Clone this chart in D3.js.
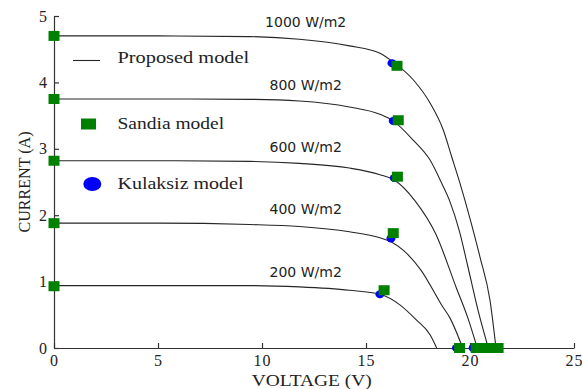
<!DOCTYPE html>
<html>
<head>
<meta charset="utf-8">
<script src="https://cdn.jsdelivr.net/npm/d3@7"></script>
<style>
  html, body { margin: 0; padding: 0; background: #fff; }
  svg { display: block; }
</style>
</head>
<body>
<svg id="chart" width="582" height="389"></svg>
<script>
// Irradiance levels, one I-V curve per level
const irradiance = [200, 400, 600, 800, 1000];
const curveLabels = ["200 W/m2", "400 W/m2", "600 W/m2", "800 W/m2", "1000 W/m2"];

// Proposed model I-V curves: [voltage (V), current (A)]
const proposed200 = [[0, 0.94], [5, 0.94], [9.4, 0.94], [11.8, 0.92], [14.2, 0.87], [15.67, 0.81], [16.63, 0.65], [17.43, 0.42], [18.08, 0.2], [18.4, 0]];
const proposed400 = [[0, 1.88], [5, 1.88], [9.4, 1.86], [11.8, 1.83], [14.2, 1.75], [15.67, 1.66], [16.2, 1.6], [16.8, 1.47], [17.65, 1.17], [18.65, 0.64], [19.04, 0.45], [19.65, 0]];
const proposed600 = [[0, 2.82], [5, 2.82], [9.4, 2.81], [11.8, 2.78], [14.2, 2.71], [15.67, 2.61], [16.36, 2.53], [17.35, 2.22], [18.35, 1.72], [19.35, 0.9], [19.9, 0.45], [20.35, 0]];
const proposed800 = [[0, 3.75], [5, 3.75], [9.4, 3.745], [11.8, 3.72], [14.2, 3.63], [15.67, 3.52], [16.3, 3.42], [17.27, 3.13], [18.08, 2.83], [18.64, 2.48], [19.04, 2.2], [19.5, 1.75], [19.88, 1.25], [20.4, 0.55], [20.88, 0]];
const proposed1000 = [[0, 4.70], [5, 4.70], [9.4, 4.69], [11.8, 4.65], [14.2, 4.55], [15.67, 4.44], [16.3, 4.31], [17.27, 4.04], [18.08, 3.69], [18.72, 3.28], [19.12, 2.88], [19.52, 2.48], [20.0, 1.95], [20.48, 1.37], [20.96, 0.72], [21.25, 0]];
const proposedCurves = [proposed200, proposed400, proposed600, proposed800, proposed1000];

// Sandia model key points (Isc, maximum power point, Voc) per irradiance
const sandiaIsc = [0.93, 1.88, 2.82, 3.75, 4.70];
const sandiaVmp = [15.87, 16.31, 16.51, 16.55, 16.49];
const sandiaImp = [0.87, 1.73, 2.58, 3.43, 4.25];
const sandiaVoc = [19.5, 20.3, 20.65, 21.0, 21.35];

// Kulaksiz model key points per irradiance
const kulaksizIsc = [0.93, 1.88, 2.82, 3.75, 4.70];
const kulaksizVmp = [15.67, 16.2, 16.36, 16.31, 16.25];
const kulaksizImp = [0.81, 1.65, 2.56, 3.42, 4.29];
const kulaksizVoc = [19.35, 20.15, 20.5, 20.9, 21.2];

// Axis ticks
const xTicks = [0, 5, 10, 15, 20, 25];
const yTicks = [0, 1, 2, 3, 4, 5];

const legendItems = ["Proposed model", "Sandia model", "Kulaksiz model"];

const svg = d3.select("#chart");
const x = d3.scaleLinear().domain([0, 25]).range([54, 574]);
const y = d3.scaleLinear().domain([0, 5]).range([348, 16]);

const serif = "'Liberation Serif', 'Times New Roman', serif";
const sans = "'DejaVu Sans', Verdana, sans-serif";
const axisColor = "#333";

// Axes with inward ticks
const xAxis = d3.axisBottom(x).tickValues(xTicks).tickFormat(d3.format("d"))
  .tickSizeInner(-5).tickSizeOuter(0).tickPadding(6.6);
const yAxis = d3.axisLeft(y).tickValues(yTicks).tickFormat(d3.format("d"))
  .tickSizeInner(-5).tickSizeOuter(0).tickPadding(7);

const gx = svg.append("g").attr("transform", `translate(0,${y(0)})`).call(xAxis);
const gy = svg.append("g").attr("transform", `translate(${x(0)},0)`).call(yAxis);
[gx, gy].forEach(g => {
  g.select(".domain").attr("stroke", axisColor).attr("stroke-width", 1.2);
  g.selectAll(".tick line").attr("stroke", axisColor).attr("stroke-width", 1.2);
  g.selectAll(".tick text").attr("fill", "#222").style("font-family", serif).style("font-size", "16px");
});
gx.selectAll(".tick text").style("letter-spacing", "1px");

// Axis titles
svg.append("text")
  .attr("x", 311.7).attr("y", 386)
  .attr("text-anchor", "middle")
  .attr("textLength", 120).attr("lengthAdjust", "spacingAndGlyphs")
  .style("font-family", serif).style("font-size", "16px").attr("fill", "#222")
  .text("VOLTAGE (V)");

svg.append("text")
  .attr("transform", `translate(30,${y(2.5)}) rotate(-90)`)
  .attr("text-anchor", "middle")
  .attr("textLength", 101).attr("lengthAdjust", "spacingAndGlyphs")
  .style("font-family", serif).style("font-size", "16px").attr("fill", "#222")
  .text("CURRENT (A)");

// Proposed model curves
const line = d3.line()
  .x(d => x(d[0]))
  .y(d => y(d[1]))
  .curve(d3.curveMonotoneX);

svg.append("g").selectAll("path")
  .data(proposedCurves)
  .join("path")
  .attr("d", line)
  .attr("fill", "none")
  .attr("stroke", "#262626")
  .attr("stroke-width", 1.1);

// Irradiance labels above each curve
svg.append("g").selectAll("text")
  .data(curveLabels)
  .join("text")
  .attr("x", x(12.1))
  .attr("y", (d, i) => y(sandiaIsc[i]) - 9)
  .attr("text-anchor", "middle")
  .style("font-family", sans).style("font-size", "14px").attr("fill", "#222")
  .text(d => d);

// Kulaksiz model points
const kulaksizPts = [];
irradiance.forEach((g, i) => {
  kulaksizPts.push([0, kulaksizIsc[i]], [kulaksizVmp[i], kulaksizImp[i]], [kulaksizVoc[i], 0]);
});
svg.append("g").selectAll("ellipse")
  .data(kulaksizPts)
  .join("ellipse")
  .attr("cx", d => x(d[0])).attr("cy", d => y(d[1]))
  .attr("rx", 4.5).attr("ry", 4)
  .attr("fill", "#0000ff");

// Sandia model points
const sandiaPts = [];
irradiance.forEach((g, i) => {
  sandiaPts.push([0, sandiaIsc[i]], [sandiaVmp[i], sandiaImp[i]], [sandiaVoc[i], 0]);
});
svg.append("g").selectAll("rect")
  .data(sandiaPts)
  .join("rect")
  .attr("x", d => x(d[0]) - 5.5).attr("y", d => y(d[1]) - 5)
  .attr("width", 11).attr("height", 10)
  .attr("fill", "#008000");

// Legend
const legend = svg.append("g");
legend.append("line")
  .attr("x1", 73).attr("x2", 100).attr("y1", 60.5).attr("y2", 60.5)
  .attr("stroke", "#262626").attr("stroke-width", 1.1);
legend.append("rect")
  .attr("x", 81).attr("y", 118.5).attr("width", 15).attr("height", 11)
  .attr("fill", "#008000");
legend.append("ellipse")
  .attr("cx", 92.3).attr("cy", 184).attr("rx", 9).attr("ry", 7)
  .attr("fill", "#0000ff");

const legendBaselines = [63.3, 129, 189];
const legendWidths = [131.7, 106.6, 126];
legend.selectAll("text.item")
  .data(legendItems)
  .join("text")
  .attr("class", "item")
  .attr("x", 117.5)
  .attr("y", (d, i) => legendBaselines[i])
  .attr("textLength", (d, i) => legendWidths[i]).attr("lengthAdjust", "spacingAndGlyphs")
  .style("font-family", serif).style("font-size", "16px").attr("fill", "#222")
  .text(d => d);
</script>
</body>
</html>
